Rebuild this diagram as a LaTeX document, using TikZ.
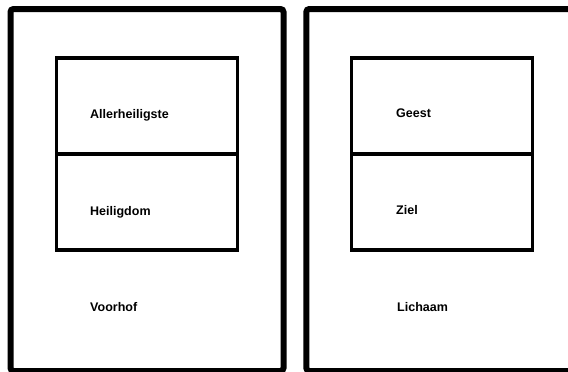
\documentclass[tikz,border=0pt]{standalone}
\usepackage{fontspec}
\setmainfont{Liberation Sans}
\usepackage{tikz}
\usetikzlibrary{positioning, calc}

\begin{document}
\begin{tikzpicture}[
  x=1pt, y=-1pt,
  every node/.style={font=\fontsize{12.5}{14}\selectfont\bfseries}
]
\tikzset{
  outer/.style ={draw=black, line width=6pt, rounded corners=3pt,
                 inner sep=0pt, outer sep=0pt,
                 minimum width=273pt, minimum height=362pt},
  room/.style  ={draw=black, line width=3.5pt, inner sep=0pt, outer sep=0pt,
                 minimum width=181pt, minimum height=96pt},
  lab/.style   ={anchor=base west, inner sep=0pt}
}
\useasboundingbox (0,0) rectangle (568,372);

%% ----- Tabernakel -----
\node[outer] (court) at (147,190) {};
\node[room] (holiest) at (147,106) {};
\node[room] (holy)    at (147,202) {};

\node[lab] (tholiest) at (90,118) {Allerheiligste};
\node[lab] (tholy)    at (90,215) {Heiligdom};
\node[lab] (tcourt)   at (90,311) {Voorhof};

%% ----- Mens -----
\node[outer] (body) at (442.8,190) {};
\node[room] (spirit) at (442,106) {};
\node[room] (soul)   at (442,202) {};

\node[lab] (tspirit) at (396,117) {Geest};
\node[lab] (tsoul)   at (396,214) {Ziel};
\node[lab] (tbody)   at (397,311) {Lichaam};

\end{tikzpicture}
\end{document}
